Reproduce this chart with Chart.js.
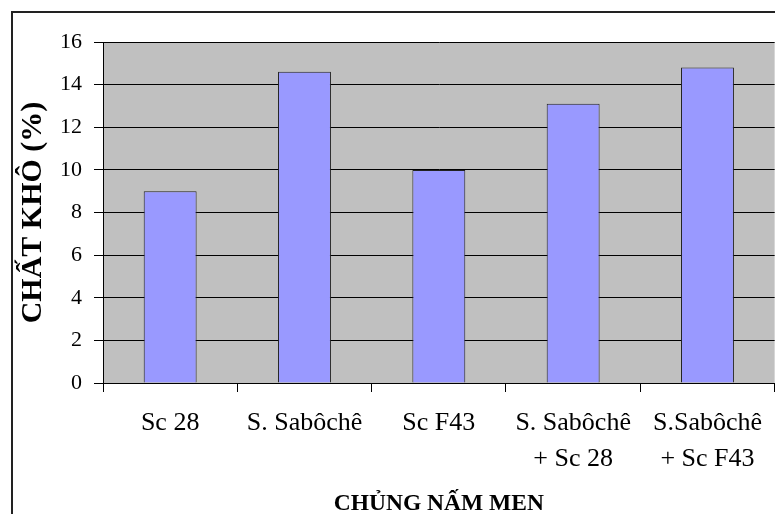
<!DOCTYPE html>
<html>
<head>
<meta charset="utf-8">
<script src="https://cdn.jsdelivr.net/npm/chart.js@4"></script>
<style>
    html, body { margin: 0; padding: 0; background: #ffffff; }
    #wrap { position: relative; width: 775px; height: 514px; }
</style>
</head>
<body>
<div id="wrap"><canvas id="chart" width="775" height="514"></canvas></div>
<script>
var categories = [
    'Sc 28',
    'S. Sabôchê',
    'Sc F43',
    ['S. Sabôchê', '+ Sc 28'],
    ['S.Sabôchê', '+ Sc F43']
];
var dryMatter = [9.0, 14.6, 10.0, 13.1, 14.8];
var yTicks = [0, 2, 4, 6, 8, 10, 12, 14, 16];

var serif = '"Liberation Serif", "Times New Roman", serif';

// grey plot background plus the frame round the whole chart
var framePlugin = {
    id: 'frame',
    beforeDraw: function (chart) {
        var ctx = chart.ctx;
        var a = chart.chartArea;
        ctx.save();
        ctx.fillStyle = '#c0c0c0';
        ctx.fillRect(a.left, a.top, a.right - a.left, a.bottom - a.top);
        ctx.strokeStyle = '#222222';
        ctx.lineWidth = 2;
        ctx.beginPath();
        ctx.moveTo(12, chart.height);
        ctx.lineTo(12, 12);
        ctx.lineTo(chart.width, 12);
        ctx.stroke();
        ctx.restore();
    }
};

new Chart(document.getElementById('chart').getContext('2d'), {
    type: 'bar',
    data: {
        labels: categories,
        datasets: [{
            label: 'Chất khô',
            data: dryMatter,
            backgroundColor: '#9999ff',
            borderColor: '#222222',
            borderWidth: 1,
            categoryPercentage: 1,
            barPercentage: 0.394
        }]
    },
    options: {
        responsive: false,
        animation: false,
        layout: { padding: { top: 42, left: 0, right: 0, bottom: 0 } },
        plugins: {
            legend: { display: false },
            tooltip: { enabled: false }
        },
        scales: {
            x: {
                afterFit: function (scale) { scale.height = 131; },
                grid: {
                    display: true,
                    drawOnChartArea: false,
                    drawTicks: true,
                    tickLength: 9,
                    color: '#000000'
                },
                border: { display: true, color: '#000000', width: 1 },
                ticks: {
                    color: '#000000',
                    padding: 13,
                    maxRotation: 0,
                    autoSkip: false,
                    font: { family: serif, size: 26, lineHeight: '36px' }
                },
                title: {
                    display: true,
                    text: 'CHỦNG NẤM MEN',
                    color: '#000000',
                    padding: { top: 0, bottom: 0 },
                    font: { family: serif, size: 23.5, weight: 'bold', lineHeight: 0.9 }
                }
            },
            y: {
                min: 0,
                max: 16,
                afterFit: function (scale) { scale.width = 103; },
                afterBuildTicks: function (scale) {
                    scale.ticks = yTicks.map(function (v) { return { value: v }; });
                },
                grid: {
                    color: '#000000',
                    lineWidth: 1,
                    tickLength: 9
                },
                border: { display: true, color: '#000000', width: 1 },
                ticks: {
                    color: '#000000',
                    padding: 12,
                    font: { family: serif, size: 22 }
                },
                title: {
                    display: true,
                    text: 'CHẤT KHÔ (%)',
                    color: '#000000',
                    padding: { top: 15, bottom: 0 },
                    font: { family: serif, size: 30, weight: 'bold', lineHeight: 1.2 }
                }
            }
        }
    },
    plugins: [framePlugin]
});
</script>
</body>
</html>
